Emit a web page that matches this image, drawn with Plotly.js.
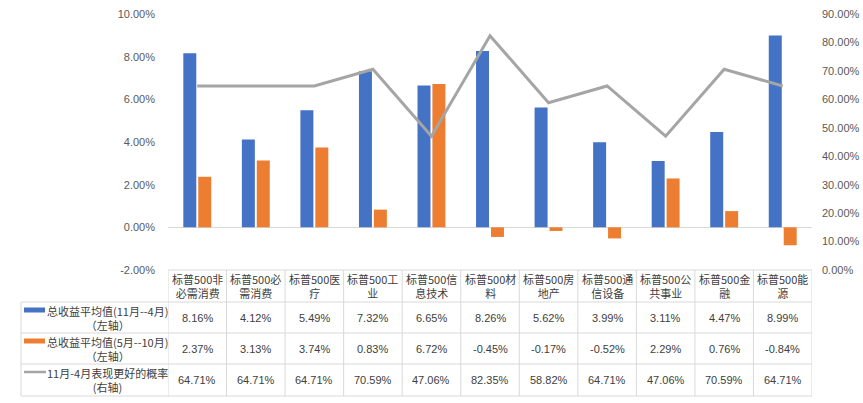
<!DOCTYPE html>
<html>
<head>
<meta charset="utf-8">
<script src="https://cdn.plot.ly/plotly-3.0.1.min.js"></script>
<style>html,body{margin:0;padding:0;background:#fff;}#chart{width:863px;height:403px;}</style>
</head>
<body>
<div id="chart"></div>
<script>
const categories = ["标普500非必需消费","标普500必需消费","标普500医疗","标普500工业","标普500信息技术","标普500材料","标普500房地产","标普500通信设备","标普500公共事业","标普500金融","标普500能源"];
const winterReturn = [8.16, 4.12, 5.49, 7.32, 6.65, 8.26, 5.62, 3.99, 3.11, 4.47, 8.99];
const summerReturn = [2.37, 3.13, 3.74, 0.83, 6.72, -0.45, -0.17, -0.52, 2.29, 0.76, -0.84];
const winProb = [64.71, 64.71, 64.71, 70.59, 47.06, 82.35, 58.82, 64.71, 47.06, 70.59, 64.71];
const seriesNames = ["总收益平均值(11月--4月)", "总收益平均值(5月--10月)", "11月-4月表现更好的概率"];
const axisNotes = ["（左轴）", "（左轴）", "(右轴)"];
const leftTicks = [-2, 0, 2, 4, 6, 8, 10];
const rightTicks = [0, 10, 20, 30, 40, 50, 60, 70, 80, 90];

const blue = "#4472C4", orange = "#ED7D31", gray = "#A5A5A5";
const cjk = "'Noto Sans CJK SC', 'Noto Sans', sans-serif";
const num = "'Liberation Sans', 'Open Sans', sans-serif";
const grid = "#D9D9D9";

const traces = [
  {type: "bar", x: categories, y: winterReturn, name: seriesNames[0], marker: {color: blue}, showlegend: false, hoverinfo: "skip"},
  {type: "bar", x: categories, y: summerReturn, name: seriesNames[1], marker: {color: orange}, showlegend: false, hoverinfo: "skip"},
  {type: "scatter", mode: "lines", x: categories, y: winProb, yaxis: "y2", name: seriesNames[2], line: {color: gray, width: 3}, showlegend: false, hoverinfo: "skip"}
];

// plot area: 168..812 px wide (644), 14..270 px tall (256)
const H = 256, W = 644, T = 14, L = 168;
const py = Y => (270 - Y) / H;
const px = X => (X - L) / W;

const rowEdges = [302, 333, 364, 396];
const rowCenters = [317.5, 348.5, 380];
const shapes = [];
const annotations = [];

shapes.push({type: "line", xref: "paper", yref: "paper", x0: 0, x1: 1, y0: py(270), y1: py(270), line: {color: grid, width: 1}});
rowEdges.forEach(Y => shapes.push({type: "line", xref: "paper", yref: "paper", x0: px(21), x1: 1, y0: py(Y), y1: py(Y), line: {color: grid, width: 1}}));
for (let i = 0; i <= categories.length; i++) {
  shapes.push({type: "line", xref: "x", yref: "paper", x0: i - 0.5, x1: i - 0.5, y0: py(270), y1: py(396), line: {color: grid, width: 1}});
}
shapes.push({type: "line", xref: "paper", yref: "paper", x0: px(21), x1: px(21), y0: py(302), y1: py(396), line: {color: grid, width: 1}});

categories.forEach((c, i) => {
  annotations.push({xref: "x", yref: "paper", x: i, y: py(286), text: c.slice(0, 6) + "<br>" + c.slice(6), showarrow: false,
    font: {family: cjk, size: 11, color: "#404040"}, align: "center", yanchor: "middle"});
});

const fmt = v => v.toFixed(2) + "%";
[winterReturn, summerReturn, winProb].forEach((arr, r) => {
  arr.forEach((v, i) => {
    annotations.push({xref: "x", yref: "paper", x: i, y: py(rowCenters[r]), text: fmt(v), showarrow: false,
      font: {family: num, size: 11, color: "#404040"}, yanchor: "middle"});
  });
});

const keyColors = [blue, orange, gray];
const rowTops = [302, 333, 364];
keyColors.forEach((col, r) => {
  const yk = rowTops[r] + 8;
  if (r < 2) {
    shapes.push({type: "rect", xref: "paper", yref: "paper", x0: px(24), x1: px(45), y0: py(yk - 2.5), y1: py(yk + 2.5), fillcolor: col, line: {width: 0}});
  } else {
    shapes.push({type: "line", xref: "paper", yref: "paper", x0: px(24), x1: px(46), y0: py(yk), y1: py(yk), line: {color: col, width: 2.5}});
  }
  annotations.push({xref: "paper", yref: "paper", x: px(107), y: py(rowTops[r] + 15.5), xanchor: "center", yanchor: "middle", align: "center",
    text: seriesNames[r] + "<br>" + axisNotes[r], showarrow: false,
    font: {family: cjk, size: 11, color: "#404040"}});
});

const layout = {
  width: 863, height: 403,
  margin: {l: L, r: 51, t: T, b: 133},
  paper_bgcolor: "#fff", plot_bgcolor: "#fff",
  barmode: "group", bargap: 0.49, bargroupgap: 0.13,
  xaxis: {type: "category", range: [-0.5, 10.5], showticklabels: false, showline: false, showgrid: false, zeroline: false, ticks: ""},
  yaxis: {range: [-2, 10], tickmode: "array", tickvals: leftTicks, ticktext: leftTicks.map(fmt), showgrid: false, zeroline: true, zerolinecolor: grid, zerolinewidth: 1,
    showline: false, ticklabelstandoff: 12, tickfont: {family: num, size: 11, color: "#595959"}},
  yaxis2: {overlaying: "y", side: "right", range: [0, 90], tickmode: "array", tickvals: rightTicks, ticktext: rightTicks.map(fmt), showgrid: false, zeroline: false,
    showline: false, ticklabelstandoff: 9, tickfont: {family: num, size: 11, color: "#595959"}},
  shapes: shapes,
  annotations: annotations,
  font: {family: num}
};

Plotly.newPlot("chart", traces, layout, {displayModeBar: false, staticPlot: true});
</script>
</body>
</html>
